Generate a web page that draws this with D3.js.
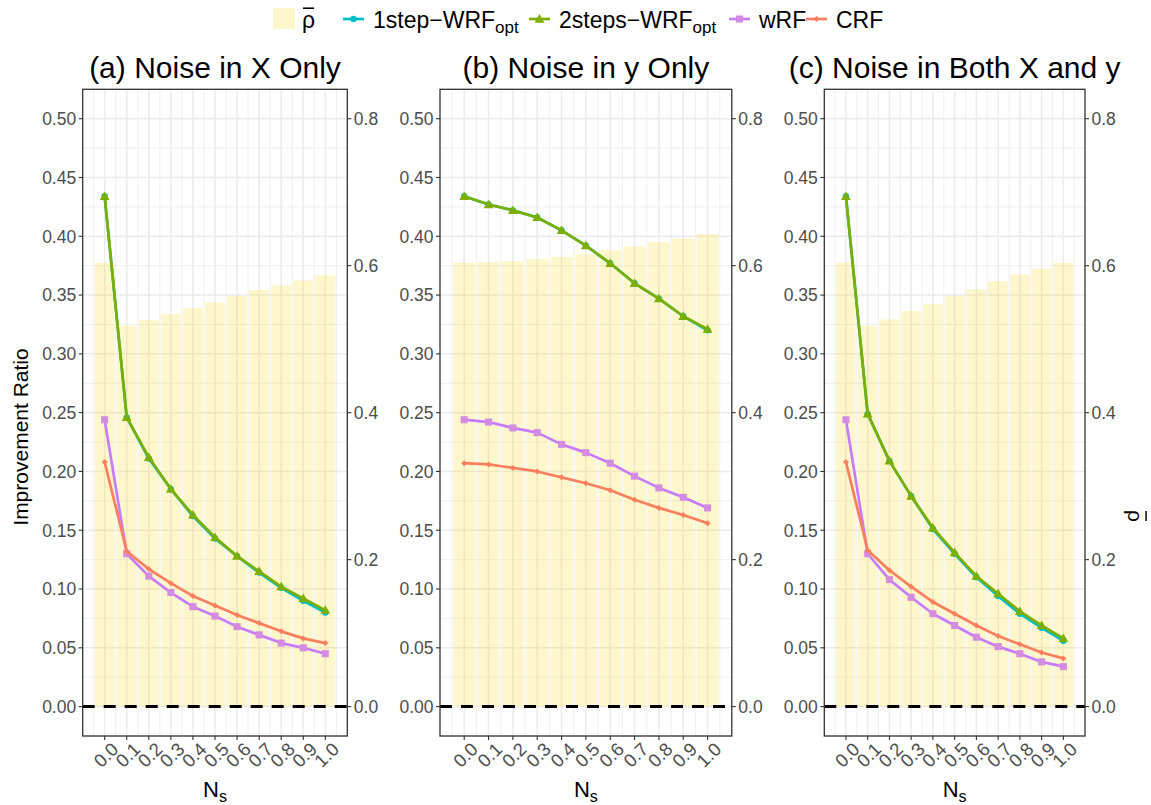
<!DOCTYPE html>
<html><head><meta charset="utf-8">
<script src="https://cdn.jsdelivr.net/npm/d3@7"></script>
<style>
body{margin:0;background:#fff}
svg{display:block}
text{font-family:"Liberation Sans",Arial,Helvetica,sans-serif}
</style>
</head><body>
<svg id="chart" width="1151" height="805"></svg>
<script>
// ---------- data ----------
const nsLabels = ["0.0","0.1","0.2","0.3","0.4","0.5","0.6","0.7","0.8","0.9","1.0"];
const yTickLabels = ["0.00","0.05","0.10","0.15","0.20","0.25","0.30","0.35","0.40","0.45","0.50"];
const rhoTickLabels = ["0.0","0.2","0.4","0.6","0.8"];
const panelTitles = ["(a) Noise in X Only","(b) Noise in y Only","(c) Noise in Both X and y"];
const seriesNames = ["1step-WRF_opt","2steps-WRF_opt","wRF","CRF"];

// rho-bar (secondary axis units)
const rhoA = [0.604,0.518,0.526,0.534,0.542,0.550,0.559,0.567,0.573,0.580,0.587];
const rhoB = [0.604,0.605,0.606,0.609,0.612,0.616,0.621,0.626,0.632,0.637,0.643];
const rhoC = [0.604,0.518,0.527,0.538,0.548,0.559,0.568,0.579,0.588,0.596,0.604];

// improvement ratios
const oneStepA  = [0.434,0.246,0.211,0.185,0.162,0.143,0.128,0.114,0.101,0.090,0.080];
const twoStepsA = [0.434,0.246,0.212,0.185,0.163,0.144,0.128,0.115,0.102,0.092,0.082];
const wrfA      = [0.244,0.130,0.111,0.097,0.085,0.077,0.068,0.061,0.054,0.050,0.045];
const crfA      = [0.208,0.132,0.117,0.105,0.094,0.086,0.078,0.071,0.064,0.058,0.054];

const oneStepB  = [0.434,0.427,0.422,0.416,0.405,0.392,0.377,0.360,0.347,0.332,0.320];
const twoStepsB = [0.434,0.427,0.422,0.416,0.405,0.392,0.377,0.360,0.347,0.332,0.321];
const wrfB      = [0.244,0.242,0.237,0.233,0.223,0.216,0.207,0.196,0.186,0.178,0.169];
const crfB      = [0.207,0.206,0.203,0.200,0.195,0.190,0.184,0.176,0.169,0.163,0.156];

const oneStepC  = [0.434,0.249,0.209,0.179,0.151,0.130,0.110,0.094,0.079,0.067,0.056];
const twoStepsC = [0.434,0.249,0.209,0.179,0.152,0.131,0.111,0.096,0.081,0.069,0.058];
const wrfC      = [0.244,0.130,0.108,0.093,0.079,0.069,0.059,0.051,0.045,0.038,0.034];
const crfC      = [0.208,0.133,0.116,0.102,0.089,0.079,0.069,0.060,0.053,0.046,0.041];

// ---------- styles / layout ----------
const colors = {"1step-WRF_opt":"#00BFC4","2steps-WRF_opt":"#7CAE00","wRF":"#C77CFF","CRF":"#F97F5E"};
const barFill = "#FFD700", barOpacity = 0.2;
const panels = [
  {x0:82.7, x1:347.3, title:panelTitles[0], rho:rhoA, s:[oneStepA,twoStepsA,wrfA,crfA]},
  {x0:440,  x1:731.8, title:panelTitles[1], rho:rhoB, s:[oneStepB,twoStepsB,wrfB,crfB]},
  {x0:824.3,x1:1085,  title:panelTitles[2], rho:rhoC, s:[oneStepC,twoStepsC,wrfC,crfC]}
];
const Y0 = 89.3, Y1 = 736;
const svg = d3.select("#chart");
const ns = nsLabels.map(Number);
const y = d3.scaleLinear().domain([-0.025,0.525]).range([Y1,Y0]);
const yR = d3.scaleLinear().domain([-0.025*1.6,0.525*1.6]).range([Y1,Y0]);

function marker(name){
  if(name==="1step-WRF_opt") return d3.symbol(d3.symbolCircle,32)();
  if(name==="2steps-WRF_opt") return d3.symbol(d3.symbolTriangle,42)();
  if(name==="wRF") return d3.symbol(d3.symbolSquare,50)();
  return d3.symbol(d3.symbolSquare,18)();
}
function markerTransform(name,px,py){
  if(name==="CRF") return `translate(${px},${py}) rotate(45)`;
  if(name==="2steps-WRF_opt") return `translate(${px},${py+0.8})`;
  return `translate(${px},${py})`;
}
// rho with overline (text + overline mark)
function rhoBar(parent, fs){
  const t = parent.append("text").attr("x",0).attr("y",0).attr("font-size",fs).attr("fill","#000").text("ρ");
  const w = t.node().getComputedTextLength();
  parent.append("line").attr("x1",w*0.08).attr("x2",w*0.92).attr("y1",-fs*0.86).attr("y2",-fs*0.86)
    .attr("stroke","#000").attr("stroke-width",fs*0.07);
  return w;
}

panels.forEach((p,pi)=>{
  const x = d3.scaleLinear().domain([-0.0995,1.0995]).range([p.x0,p.x1]);
  const g = svg.append("g");
  g.append("rect").attr("x",p.x0).attr("y",Y0).attr("width",p.x1-p.x0).attr("height",Y1-Y0).attr("fill","#fff");
  // minor grid
  const yMinor = d3.range(-0.025,0.53,0.05).filter(v=>v>=-0.025&&v<=0.525);
  g.selectAll(".ymin").data(yMinor).enter().append("line")
    .attr("x1",p.x0).attr("x2",p.x1).attr("y1",d=>y(d)).attr("y2",d=>y(d))
    .attr("stroke","#EBEBEB").attr("stroke-width",0.8);
  const xMinor = d3.range(-0.05,1.1,0.1);
  g.selectAll(".xmin").data(xMinor).enter().append("line")
    .attr("y1",Y0).attr("y2",Y1).attr("x1",d=>x(d)).attr("x2",d=>x(d))
    .attr("stroke","#EBEBEB").attr("stroke-width",0.8);
  // major grid
  const yMajor = yTickLabels.map(Number);
  g.selectAll(".ymaj").data(yMajor).enter().append("line")
    .attr("x1",p.x0).attr("x2",p.x1).attr("y1",d=>y(d)).attr("y2",d=>y(d))
    .attr("stroke","#EBEBEB").attr("stroke-width",1.5);
  g.selectAll(".xmaj").data(ns).enter().append("line")
    .attr("y1",Y0).attr("y2",Y1).attr("x1",d=>x(d)).attr("x2",d=>x(d))
    .attr("stroke","#EBEBEB").attr("stroke-width",1.5);
  // bars
  g.selectAll(".bar").data(p.rho).enter().append("rect")
    .attr("x",(d,i)=>x(ns[i]-0.045)).attr("width",(d,i)=>x(ns[i]+0.045)-x(ns[i]-0.045))
    .attr("y",d=>yR(d)).attr("height",d=>yR(0)-yR(d))
    .attr("fill",barFill).attr("fill-opacity",barOpacity);
  // dashed zero line
  g.append("line").attr("x1",p.x0).attr("x2",p.x1).attr("y1",y(0)).attr("y2",y(0))
    .attr("stroke","#000").attr("stroke-width",3).attr("stroke-dasharray","12,9");
  // series
  const line = d3.line().x((d,i)=>x(ns[i])).y(d=>y(d));
  p.s.forEach((vals,si)=>{
    const name = seriesNames[si];
    g.append("path").attr("d",line(vals)).attr("fill","none")
      .attr("stroke",colors[name]).attr("stroke-width",2.7).attr("stroke-linejoin","round");
    g.selectAll(".pt"+si).data(vals).enter().append("path")
      .attr("d",marker(name))
      .attr("transform",(d,i)=>markerTransform(name,x(ns[i]),y(d)))
      .attr("fill",name==="wRF"?"#D38CE0":colors[name]);
  });
  // border
  g.append("rect").attr("x",p.x0).attr("y",Y0).attr("width",p.x1-p.x0).attr("height",Y1-Y0)
    .attr("fill","none").attr("stroke","#333").attr("stroke-width",1.3);
  // left axis
  yTickLabels.forEach(lbl=>{
    const v = +lbl;
    g.append("line").attr("x1",p.x0-4).attr("x2",p.x0).attr("y1",y(v)).attr("y2",y(v)).attr("stroke","#333").attr("stroke-width",1.1);
    g.append("text").attr("x",p.x0-6.5).attr("y",y(v)).attr("dy","0.36em").attr("text-anchor","end")
      .attr("font-size",17.5).attr("fill","#4D4D4D").text(lbl);
  });
  // right axis
  rhoTickLabels.forEach(lbl=>{
    const v = +lbl;
    g.append("line").attr("x1",p.x1).attr("x2",p.x1+4).attr("y1",yR(v)).attr("y2",yR(v)).attr("stroke","#333").attr("stroke-width",1.1);
    g.append("text").attr("x",p.x1+6.5).attr("y",yR(v)).attr("dy","0.36em").attr("text-anchor","start")
      .attr("font-size",17.5).attr("fill","#4D4D4D").text(lbl);
  });
  // bottom axis
  nsLabels.forEach((lbl,i)=>{
    const xv = x(ns[i]);
    g.append("line").attr("x1",xv).attr("x2",xv).attr("y1",Y1).attr("y2",Y1+4).attr("stroke","#333").attr("stroke-width",1.1);
    g.append("text").attr("transform",`translate(${xv+5.5},${Y1+5}) rotate(-45)`)
      .attr("dy","0.72em").attr("text-anchor","end")
      .attr("font-size",18.5).attr("fill","#4D4D4D").text(lbl);
  });
  // x title
  const cx = (p.x0+p.x1)/2;
  const xt = g.append("text").attr("x",cx).attr("y",797).attr("text-anchor","middle").attr("font-size",22).attr("fill","#000");
  xt.append("tspan").text("N");
  xt.append("tspan").attr("font-size",16).attr("dy",5).text("s");
  // panel title
  g.append("text").attr("x",cx).attr("y",78).attr("text-anchor","middle").attr("font-size",30).attr("fill","#000").text(p.title);
});

// axis titles
svg.append("text").attr("transform","translate(28,437) rotate(-90)").attr("text-anchor","middle")
  .attr("font-size",21).attr("fill","#000").text("Improvement Ratio");
const rt = svg.append("g").attr("transform","translate(1128,510) rotate(90)");
rhoBar(rt,21);

// legend
const lg = svg.append("g");
lg.append("rect").attr("x",273).attr("y",8).attr("width",22).attr("height",21).attr("fill",barFill).attr("fill-opacity",barOpacity);
rhoBar(lg.append("g").attr("transform","translate(302,28)"),23);
const legendItems = [
  {name:"1step-WRF_opt", main:"1step\u2212WRF", sub:"opt", kx:343},
  {name:"2steps-WRF_opt", main:"2steps\u2212WRF", sub:"opt", kx:529},
  {name:"wRF", main:"wRF", sub:null, kx:729},
  {name:"CRF", main:"CRF", sub:null, kx:806}
];
legendItems.forEach(it=>{
  lg.append("line").attr("x1",it.kx).attr("x2",it.kx+21).attr("y1",19).attr("y2",19)
    .attr("stroke",colors[it.name]).attr("stroke-width",2.7);
  lg.append("path").attr("d",marker(it.name)).attr("transform",markerTransform(it.name,it.kx+10.5,19))
    .attr("fill",it.name==="wRF"?"#D38CE0":colors[it.name]);
  const t = lg.append("text").attr("x",it.kx+30).attr("y",28).attr("font-size",23).attr("fill","#000");
  t.append("tspan").text(it.main);
  if(it.sub) t.append("tspan").attr("font-size",17).attr("dy",5).text(it.sub);
});
</script>
</body></html>
